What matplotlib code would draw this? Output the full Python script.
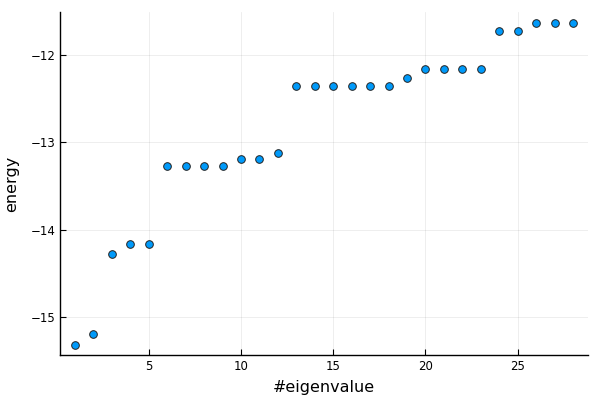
import matplotlib
matplotlib.use('Agg')
import matplotlib.pyplot as plt

# valores
indices = list(range(1, 29))
energias = [-15.32, -15.19, -14.28, -14.16, -14.16,
            -13.27, -13.27, -13.27, -13.27, -13.19, -13.19, -13.12,
            -12.36, -12.36, -12.36, -12.36, -12.36, -12.36, -12.26,
            -12.16, -12.16, -12.16, -12.16,
            -11.73, -11.73, -11.63, -11.63, -11.63]
xticks = [5, 10, 15, 20, 25]
yticks = [-15, -14, -13, -12]

fig = plt.figure(figsize=(6, 4), dpi=100)
ax = fig.add_axes([0.1, 0.1125, 0.88, 0.8575])

ax.plot(indices, energias, linestyle='none', marker='o', markersize=5.5,
        markerfacecolor='#009afa', markeredgecolor='#222222', markeredgewidth=0.7)

ax.set_xlim(0.19, 28.81)
ax.set_ylim(-15.43, -11.51)
ax.set_xticks(xticks)
ax.set_yticks(yticks)
ax.set_yticklabels([f'\u2212{abs(v)}' for v in yticks])

ax.spines['top'].set_visible(False)
ax.spines['right'].set_visible(False)
for lado in ('left', 'bottom'):
    ax.spines[lado].set_linewidth(1.0)
    ax.spines[lado].set_color('black')

ax.tick_params(direction='in', length=4, width=0.8, labelsize=8.5, colors='black')
ax.grid(True, color='black', alpha=0.08, linewidth=0.6)
ax.set_axisbelow(True)

ax.set_xlabel('#eigenvalue', fontsize=11.5, labelpad=5)
ax.set_ylabel('energy', fontsize=11.5, labelpad=8)

fig.savefig('out.png', dpi=100)
